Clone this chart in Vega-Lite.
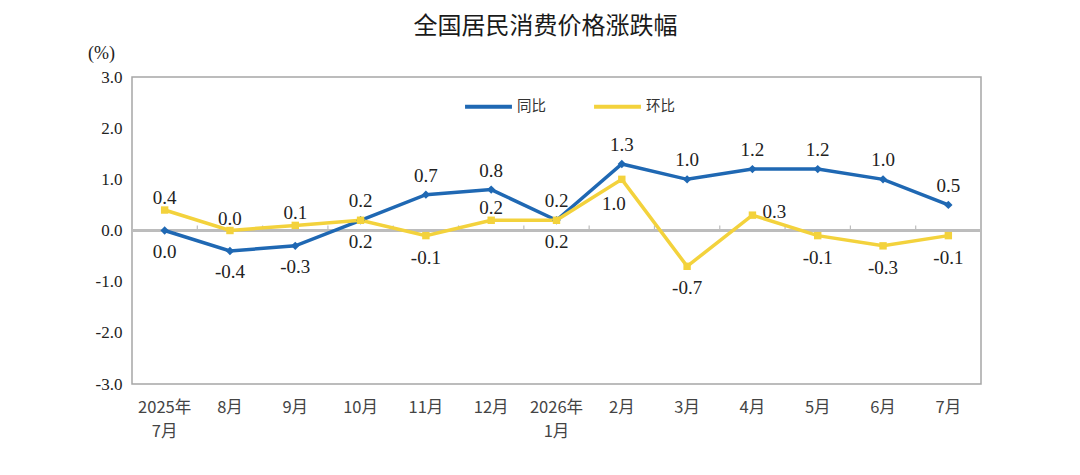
{
  "$schema": "https://vega.github.io/schema/vega-lite/v6.json",
  "autosize": {"type": "none"},
  "width": 849,
  "height": 307,
  "padding": {"left": 132, "top": 77, "right": 99, "bottom": 91},
  "background": "white",
  "title": {
    "text": "全国居民消费价格涨跌幅",
    "font": "Noto Sans CJK SC",
    "fontSize": 24,
    "fontWeight": "normal",
    "color": "#1a1a1a",
    "anchor": "middle",
    "dx": -11,
    "offset": 5
  },
  "config": {
    "view": {"stroke": "#a6a6a6", "strokeWidth": 1.5},
    "axis": {"grid": false},
    "locale": {
      "number": {"decimal": ".", "thousands": ",", "grouping": [3], "currency": ["", ""], "minus": "-"}
    }
  },
  "data": {
    "values": [
      {"month": "2025年7月", "series": "同比", "value": 0.0},
      {"month": "8月", "series": "同比", "value": -0.4},
      {"month": "9月", "series": "同比", "value": -0.3},
      {"month": "10月", "series": "同比", "value": 0.2},
      {"month": "11月", "series": "同比", "value": 0.7},
      {"month": "12月", "series": "同比", "value": 0.8},
      {"month": "2026年1月", "series": "同比", "value": 0.2},
      {"month": "2月", "series": "同比", "value": 1.3},
      {"month": "3月", "series": "同比", "value": 1.0},
      {"month": "4月", "series": "同比", "value": 1.2},
      {"month": "5月", "series": "同比", "value": 1.2},
      {"month": "6月", "series": "同比", "value": 1.0},
      {"month": "7月", "series": "同比", "value": 0.5},
      {"month": "2025年7月", "series": "环比", "value": 0.4},
      {"month": "8月", "series": "环比", "value": 0.0},
      {"month": "9月", "series": "环比", "value": 0.1},
      {"month": "10月", "series": "环比", "value": 0.2},
      {"month": "11月", "series": "环比", "value": -0.1},
      {"month": "12月", "series": "环比", "value": 0.2},
      {"month": "2026年1月", "series": "环比", "value": 0.2},
      {"month": "2月", "series": "环比", "value": 1.0},
      {"month": "3月", "series": "环比", "value": -0.7},
      {"month": "4月", "series": "环比", "value": 0.3},
      {"month": "5月", "series": "环比", "value": -0.1},
      {"month": "6月", "series": "环比", "value": -0.3},
      {"month": "7月", "series": "环比", "value": -0.1}
    ]
  },
  "encoding": {
    "x": {
      "field": "month",
      "type": "nominal",
      "sort": null,
      "scale": {"type": "band", "paddingInner": 0, "paddingOuter": 0},
      "axis": {
        "title": null,
        "ticks": false,
        "domain": false,
        "labelAngle": 0,
        "labelFont": "Noto Sans CJK SC",
        "labelFontSize": 16.5,
        "labelColor": "#444444",
        "labelPadding": 15,
        "labelLineHeight": 24,
        "labelExpr": "indexof(datum.label, '年') > 0 ? [substring(datum.label, 0, 5), substring(datum.label, 5)] : datum.label"
      }
    },
    "y": {
      "field": "value",
      "type": "quantitative",
      "scale": {"domain": [-3, 3], "nice": false},
      "axis": {
        "values": [-3, -2, -1, 0, 1, 2, 3],
        "format": ".1f",
        "domain": false,
        "ticks": false,
        "labelFont": "Liberation Serif",
        "labelFontSize": 17,
        "labelColor": "#222222",
        "labelPadding": 10,
        "title": "(%)",
        "titleAngle": 0,
        "titleX": -31,
        "titleY": -24,
        "titleAlign": "center",
        "titleBaseline": "middle",
        "titleFont": "Liberation Serif",
        "titleFontSize": 18,
        "titleFontWeight": "normal",
        "titleColor": "#222222"
      }
    }
  },
  "layer": [
    {
      "mark": {"type": "rule", "color": "#bdbdbd", "strokeWidth": 1.5},
      "encoding": {"x": null, "y": {"datum": 0}}
    },
    {
      "transform": [{"filter": "datum.series == '同比'"}],
      "mark": {"type": "rule", "color": "#bdbdbd", "strokeWidth": 1.2},
      "encoding": {
        "x": {"field": "month", "type": "nominal", "sort": null, "bandPosition": 0},
        "y": {"datum": 0},
        "y2": {"datum": 0.1}
      }
    },
    {
      "mark": {"type": "line", "strokeWidth": 3.5},
      "encoding": {
        "color": {
          "field": "series",
          "type": "nominal",
          "scale": {"domain": ["同比", "环比"], "range": ["#1f68b3", "#f3d23c"]},
          "legend": {
            "title": null,
            "orient": "none",
            "direction": "horizontal",
            "legendX": 331,
            "legendY": 4,
            "symbolType": "stroke",
            "symbolSize": 2200,
            "symbolStrokeWidth": 4,
            "labelFont": "Noto Sans CJK SC",
            "labelFontSize": 14.5,
            "labelColor": "#333333",
            "labelOffset": 3,
            "columnPadding": 40
          }
        }
      }
    },
    {
      "transform": [{"filter": "datum.series == '同比'"}],
      "mark": {"type": "point", "shape": "diamond", "filled": true, "size": 70, "color": "#1f68b3", "opacity": 1}
    },
    {
      "transform": [{"filter": "datum.series == '环比'"}],
      "mark": {"type": "point", "shape": "square", "filled": true, "size": 55, "color": "#f3d23c", "opacity": 1}
    },
    {
      "transform": [{"filter": "datum.series == '同比' && indexof(['2025年7月', '8月', '9月'], datum.month) >= 0"}],
      "mark": {"type": "text", "font": "Liberation Serif", "fontSize": 19, "color": "#222222", "baseline": "middle", "dy": 21},
      "encoding": {"text": {"field": "value", "type": "quantitative", "format": ".1f"}}
    },
    {
      "transform": [{"filter": "datum.series == '同比' && indexof(['2025年7月', '8月', '9月'], datum.month) < 0"}],
      "mark": {"type": "text", "font": "Liberation Serif", "fontSize": 19, "color": "#222222", "baseline": "middle", "dy": -19},
      "encoding": {"text": {"field": "value", "type": "quantitative", "format": ".1f"}}
    },
    {
      "transform": [{"filter": "datum.series == '环比' && indexof(['2025年7月', '8月', '9月', '12月'], datum.month) >= 0"}],
      "mark": {"type": "text", "font": "Liberation Serif", "fontSize": 19, "color": "#222222", "baseline": "middle", "dy": -12},
      "encoding": {"text": {"field": "value", "type": "quantitative", "format": ".1f"}}
    },
    {
      "transform": [{"filter": "datum.series == '环比' && datum.month == '4月'"}],
      "mark": {"type": "text", "font": "Liberation Serif", "fontSize": 19, "color": "#222222", "baseline": "middle", "dx": 22, "dy": -3},
      "encoding": {"text": {"field": "value", "type": "quantitative", "format": ".1f"}}
    },
    {
      "transform": [{"filter": "datum.series == '环比' && datum.month == '2月'"}],
      "mark": {"type": "text", "font": "Liberation Serif", "fontSize": 19, "color": "#222222", "baseline": "middle", "dx": -8, "dy": 25},
      "encoding": {"text": {"field": "value", "type": "quantitative", "format": ".1f"}}
    },
    {
      "transform": [{"filter": "datum.series == '环比' && indexof(['2025年7月', '8月', '9月', '12月', '4月', '2月'], datum.month) < 0"}],
      "mark": {"type": "text", "font": "Liberation Serif", "fontSize": 19, "color": "#222222", "baseline": "middle", "dy": 22},
      "encoding": {"text": {"field": "value", "type": "quantitative", "format": ".1f"}}
    }
  ]
}
